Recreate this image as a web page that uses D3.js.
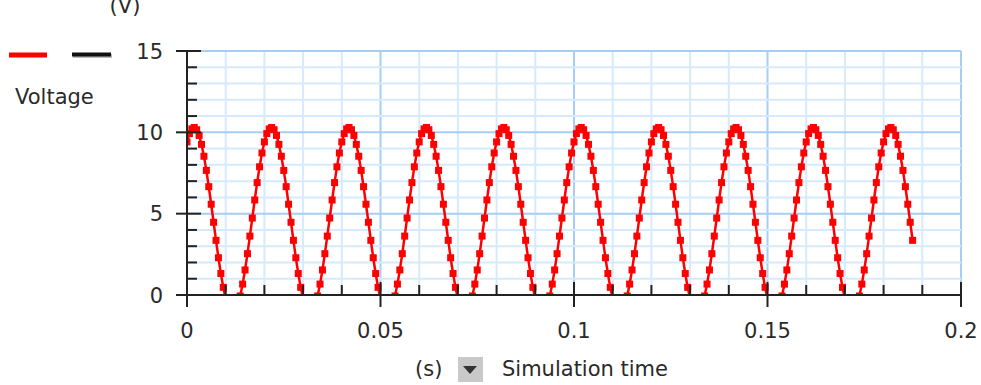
<!DOCTYPE html>
<html>
<head>
<meta charset="utf-8">
<script src="https://cdn.jsdelivr.net/npm/d3@7"></script>
<style>
body { margin: 0; background: #fff; }
text { font-family: "DejaVu Sans", Verdana, sans-serif; fill: #2a2a2a; }
</style>
</head>
<body>
<div id="container"></div>
<script>
// chart data
var seriesName = "Voltage";
var yUnit = "(V)";
var xUnit = "(s)";
var xTitle = "Simulation time";
var xMajorTicks = [0, 0.05, 0.1, 0.15, 0.2];
var xTickLabels = ["0", "0.05", "0.1", "0.15", "0.2"];
var yMajorTicks = [0, 5, 10, 15];
var yTickLabels = ["0", "5", "10", "15"];
var sampleStep = 0.000625; // simulation step (s)
// one line per 0.02 s cycle, values below 0 fall outside the plot
var voltage = [
  9.41, 9.92, 10.21, 10.30, 10.16, 9.81, 9.26, 8.53, 7.66, 6.66, 5.58, 4.47, 3.36, 2.29, 1.32, 0.47, -0.22, -0.72, -1.02, -1.10, -0.96, -0.61, -0.06, 0.67, 1.54, 2.54, 3.62, 4.73, 5.84, 6.91, 7.88, 8.73,
  9.41, 9.92, 10.21, 10.30, 10.16, 9.81, 9.26, 8.53, 7.66, 6.66, 5.58, 4.47, 3.36, 2.29, 1.32, 0.47, -0.22, -0.72, -1.02, -1.10, -0.96, -0.61, -0.06, 0.67, 1.54, 2.54, 3.62, 4.73, 5.84, 6.91, 7.88, 8.73,
  9.41, 9.92, 10.21, 10.30, 10.16, 9.81, 9.26, 8.53, 7.66, 6.66, 5.58, 4.47, 3.36, 2.29, 1.32, 0.47, -0.22, -0.72, -1.02, -1.10, -0.96, -0.61, -0.06, 0.67, 1.54, 2.54, 3.62, 4.73, 5.84, 6.91, 7.88, 8.73,
  9.41, 9.92, 10.21, 10.30, 10.16, 9.81, 9.26, 8.53, 7.66, 6.66, 5.58, 4.47, 3.36, 2.29, 1.32, 0.47, -0.22, -0.72, -1.02, -1.10, -0.96, -0.61, -0.06, 0.67, 1.54, 2.54, 3.62, 4.73, 5.84, 6.91, 7.88, 8.73,
  9.41, 9.92, 10.21, 10.30, 10.16, 9.81, 9.26, 8.53, 7.66, 6.66, 5.58, 4.47, 3.36, 2.29, 1.32, 0.47, -0.22, -0.72, -1.02, -1.10, -0.96, -0.61, -0.06, 0.67, 1.54, 2.54, 3.62, 4.73, 5.84, 6.91, 7.88, 8.73,
  9.41, 9.92, 10.21, 10.30, 10.16, 9.81, 9.26, 8.53, 7.66, 6.66, 5.58, 4.47, 3.36, 2.29, 1.32, 0.47, -0.22, -0.72, -1.02, -1.10, -0.96, -0.61, -0.06, 0.67, 1.54, 2.54, 3.62, 4.73, 5.84, 6.91, 7.88, 8.73,
  9.41, 9.92, 10.21, 10.30, 10.16, 9.81, 9.26, 8.53, 7.66, 6.66, 5.58, 4.47, 3.36, 2.29, 1.32, 0.47, -0.22, -0.72, -1.02, -1.10, -0.96, -0.61, -0.06, 0.67, 1.54, 2.54, 3.62, 4.73, 5.84, 6.91, 7.88, 8.73,
  9.41, 9.92, 10.21, 10.30, 10.16, 9.81, 9.26, 8.53, 7.66, 6.66, 5.58, 4.47, 3.36, 2.29, 1.32, 0.47, -0.22, -0.72, -1.02, -1.10, -0.96, -0.61, -0.06, 0.67, 1.54, 2.54, 3.62, 4.73, 5.84, 6.91, 7.88, 8.73,
  9.41, 9.92, 10.21, 10.30, 10.16, 9.81, 9.26, 8.53, 7.66, 6.66, 5.58, 4.47, 3.36, 2.29, 1.32, 0.47, -0.22, -0.72, -1.02, -1.10, -0.96, -0.61, -0.06, 0.67, 1.54, 2.54, 3.62, 4.73, 5.84, 6.91, 7.88, 8.73,
  9.41, 9.92, 10.21, 10.30, 10.16, 9.81, 9.26, 8.53, 7.66, 6.66, 5.58, 4.47, 3.36
];

var width = 981, height = 385;
var plot = {left: 187, right: 961, top: 51, bottom: 295};

var svg = d3.select("#container").append("svg")
    .attr("width", width)
    .attr("height", height);

var x = d3.scaleLinear().domain([0, 0.2]).range([plot.left, plot.right]);
var y = d3.scaleLinear().domain([0, 15]).range([plot.bottom, plot.top]);

var isMajorX = function(v){ return xMajorTicks.some(function(m){ return Math.abs(m - v) < 1e-9; }); };
var isMajorY = function(v){ return yMajorTicks.indexOf(v) >= 0; };

// grid
var grid = svg.append("g").classed("grid", true);
x.ticks(20).forEach(function(v){
    grid.append("line")
        .attr("x1", x(v)).attr("x2", x(v))
        .attr("y1", plot.top).attr("y2", plot.bottom)
        .attr("stroke", isMajorX(v) ? "#a6cdf4" : "#d5eafc")
        .attr("stroke-width", 2);
});
y.ticks(15).forEach(function(v){
    grid.append("line")
        .attr("x1", plot.left).attr("x2", plot.right)
        .attr("y1", y(v)).attr("y2", y(v))
        .attr("stroke", isMajorY(v) ? "#a6cdf4" : "#d5eafc")
        .attr("stroke-width", 2);
});

// series, clipped to the plot area
svg.append("clipPath").attr("id", "plotclip")
  .append("rect")
    .attr("x", plot.left).attr("y", plot.top)
    .attr("width", plot.right - plot.left)
    .attr("height", plot.bottom - plot.top);

var points = voltage.map(function(v, i){ return {t: i * sampleStep, v: v}; });
var series = svg.append("g").attr("clip-path", "url(#plotclip)");

series.append("path")
    .datum(points)
    .attr("fill", "none")
    .attr("stroke", "#ff0000")
    .attr("stroke-width", 2.5)
    .attr("d", d3.line().x(function(d){ return x(d.t); }).y(function(d){ return y(d.v); }));

var msize = 7;
series.selectAll("rect.marker")
    .data(points)
  .enter().append("rect")
    .classed("marker", true)
    .attr("x", function(d){ return x(d.t) - msize / 2; })
    .attr("y", function(d){ return y(d.v) - msize / 2; })
    .attr("width", msize)
    .attr("height", msize)
    .attr("fill", "#ff0000");

// axes
var axes = svg.append("g").attr("stroke", "#222").attr("stroke-width", 2);
axes.append("line")
    .attr("x1", plot.left).attr("x2", plot.left)
    .attr("y1", plot.top).attr("y2", plot.bottom + 12);
axes.append("line")
    .attr("x1", plot.left - 11).attr("x2", plot.right)
    .attr("y1", plot.bottom).attr("y2", plot.bottom);

y.ticks(15).forEach(function(v){
    var major = isMajorY(v);
    axes.append("line")
        .attr("x1", major ? plot.left - 11 : plot.left)
        .attr("x2", major ? plot.left + 14 : plot.left + 10)
        .attr("y1", y(v)).attr("y2", y(v));
});
x.ticks(20).forEach(function(v){
    var major = isMajorX(v);
    axes.append("line")
        .attr("x1", x(v)).attr("x2", x(v))
        .attr("y1", major ? plot.bottom - 13 : plot.bottom - 10)
        .attr("y2", major ? plot.bottom + 12 : plot.bottom);
});

// tick labels
var fs = 21;
yMajorTicks.forEach(function(v, i){
    svg.append("text")
        .attr("x", 163)
        .attr("y", y(v))
        .attr("dy", "0.36em")
        .attr("text-anchor", "end")
        .attr("font-size", fs)
        .text(yTickLabels[i]);
});
xMajorTicks.forEach(function(v, i){
    svg.append("text")
        .attr("x", x(v))
        .attr("y", 338)
        .attr("text-anchor", "middle")
        .attr("font-size", fs)
        .text(xTickLabels[i]);
});

// axis titles ("(V)" sits partly above the top edge, as in the source)
svg.append("text")
    .attr("x", 125).attr("y", 13)
    .attr("text-anchor", "middle")
    .attr("font-size", fs)
    .text(yUnit);

svg.append("text")
    .attr("x", 415).attr("y", 376)
    .attr("font-size", fs)
    .text(xUnit);

svg.append("rect")
    .attr("x", 458).attr("y", 357)
    .attr("width", 25).attr("height", 25)
    .attr("fill", "#c9c9c9");
svg.append("path")
    .attr("d", "M463,366 L477,366 L470,374 Z")
    .attr("fill", "#333");

svg.append("text")
    .attr("x", 502).attr("y", 376)
    .attr("font-size", fs)
    .text(xTitle);

// legend
svg.append("line")
    .attr("x1", 9).attr("x2", 47)
    .attr("y1", 55).attr("y2", 55)
    .attr("stroke", "#ff0000").attr("stroke-width", 5);
svg.append("line")
    .attr("x1", 73).attr("x2", 112)
    .attr("y1", 56).attr("y2", 56)
    .attr("stroke", "#bbb").attr("stroke-width", 4);
svg.append("line")
    .attr("x1", 72).attr("x2", 111)
    .attr("y1", 54.5).attr("y2", 54.5)
    .attr("stroke", "#111").attr("stroke-width", 4);
svg.append("text")
    .attr("x", 15).attr("y", 104)
    .attr("font-size", fs)
    .text(seriesName);
</script>
</body>
</html>
